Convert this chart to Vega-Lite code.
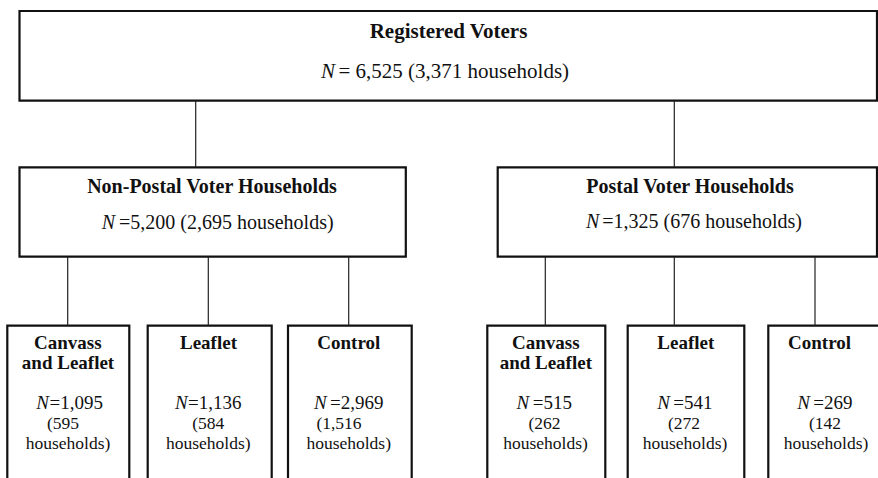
{
  "$schema": "https://vega.github.io/schema/vega-lite/v6.json",
  "width": 878,
  "height": 478,
  "padding": 0,
  "autosize": {"type": "fit", "contains": "padding"},
  "background": "white",
  "config": {"view": {"stroke": null}},
  "datasets": {
    "boxes": [
      {"id": "all", "tier": "top", "x": 19.5, "x2": 877, "y": 11, "y2": 100.7},
      {"id": "nonpostal", "tier": "mid", "x": 19.5, "x2": 405.8, "y": 167.3, "y2": 256.7},
      {"id": "postal", "tier": "mid", "x": 497.7, "x2": 877, "y": 167.3, "y2": 256.7},
      {"id": "np_canvass", "tier": "bottom", "x": 7.3, "x2": 129.3, "y": 325.7, "y2": 495},
      {"id": "np_leaflet", "tier": "bottom", "x": 147.7, "x2": 271.7, "y": 325.7, "y2": 495},
      {"id": "np_control", "tier": "bottom", "x": 288, "x2": 411.7, "y": 325.7, "y2": 495},
      {"id": "p_canvass", "tier": "bottom", "x": 487.3, "x2": 605.3, "y": 325.7, "y2": 495},
      {"id": "p_leaflet", "tier": "bottom", "x": 627.7, "x2": 744.3, "y": 325.7, "y2": 495},
      {"id": "p_control", "tier": "bottom", "x": 768.3, "x2": 890, "y": 325.7, "y2": 495}
    ],
    "links": [
      {"x": 195.7, "y": 100.7, "y2": 167.3},
      {"x": 674.3, "y": 100.7, "y2": 167.3},
      {"x": 67.7, "y": 256.7, "y2": 325.7},
      {"x": 208.3, "y": 256.7, "y2": 325.7},
      {"x": 348.7, "y": 256.7, "y2": 325.7},
      {"x": 545.3, "y": 256.7, "y2": 325.7},
      {"x": 674.3, "y": 256.7, "y2": 325.7},
      {"x": 815, "y": 256.7, "y2": 325.7}
    ],
    "headers": [
      {"tier": "top", "label": "Registered Voters", "x": 448.5, "y": 31.7},
      {"tier": "mid", "label": "Non-Postal Voter Households", "x": 212, "y": 186.7},
      {"tier": "mid", "label": "Postal Voter Households", "x": 690, "y": 186.7},
      {"tier": "bottom", "label": "Canvass", "x": 67.8, "y": 343},
      {"tier": "bottom", "label": "and Leaflet", "x": 68, "y": 362.5},
      {"tier": "bottom", "label": "Leaflet", "x": 208.5, "y": 343},
      {"tier": "bottom", "label": "Control", "x": 348.8, "y": 343},
      {"tier": "bottom", "label": "Canvass", "x": 545.8, "y": 343},
      {"tier": "bottom", "label": "and Leaflet", "x": 545.8, "y": 362.5},
      {"tier": "bottom", "label": "Leaflet", "x": 685.8, "y": 343},
      {"tier": "bottom", "label": "Control", "x": 819.5, "y": 343}
    ],
    "counts": [
      {"tier": "top", "xn": 335, "xr": 338.5, "y": 71.7, "rest": "= 6,525 (3,371 households)"},
      {"tier": "mid", "xn": 115, "xr": 119, "y": 222.5, "rest": "=5,200 (2,695 households)"},
      {"tier": "mid", "xn": 599.3, "xr": 602.3, "y": 222, "rest": "=1,325 (676 households)"},
      {"tier": "bottom", "xn": 49, "xr": 49.5, "y": 403, "rest": "=1,095"},
      {"tier": "bottom", "xn": 187.7, "xr": 188, "y": 403, "rest": "=1,136"},
      {"tier": "bottom", "xn": 326.7, "xr": 330, "y": 403, "rest": "=2,969"},
      {"tier": "bottom", "xn": 529.3, "xr": 532.7, "y": 403, "rest": "=515"},
      {"tier": "bottom", "xn": 670, "xr": 673.3, "y": 403, "rest": "=541"},
      {"tier": "bottom", "xn": 810, "xr": 813.3, "y": 403, "rest": "=269"}
    ],
    "lines": [
      {"label": "(595", "x": 63, "y": 423.5},
      {"label": "households)", "x": 68, "y": 444},
      {"label": "(584", "x": 208.3, "y": 423.5},
      {"label": "households)", "x": 208.3, "y": 444},
      {"label": "(1,516", "x": 339, "y": 423.5},
      {"label": "households)", "x": 348.7, "y": 444},
      {"label": "(262", "x": 544.5, "y": 423.5},
      {"label": "households)", "x": 545.5, "y": 444},
      {"label": "(272", "x": 684, "y": 423.5},
      {"label": "households)", "x": 685, "y": 444},
      {"label": "(142", "x": 825, "y": 423.5},
      {"label": "households)", "x": 826, "y": 444}
    ]
  },
  "layer": [
    {
      "data": {"name": "boxes"},
      "mark": {"type": "rect", "fill": "white", "stroke": "#111", "clip": true},
      "encoding": {
        "x": {"field": "x", "type": "quantitative", "scale": {"domain": [0, 878], "nice": false, "zero": false}, "axis": null},
        "x2": {"field": "x2"},
        "y": {"field": "y", "type": "quantitative", "scale": {"domain": [0, 478], "nice": false, "zero": false, "reverse": true}, "axis": null},
        "y2": {"field": "y2"},
        "strokeWidth": {"field": "tier", "type": "ordinal", "scale": {"domain": ["top", "mid", "bottom"], "range": [2.2, 2.2, 1.2]}, "legend": null}
      }
    },
    {
      "data": {"name": "links"},
      "mark": {"type": "rule", "stroke": "#222", "strokeWidth": 1.2},
      "encoding": {
        "x": {"field": "x", "type": "quantitative"},
        "y": {"field": "y", "type": "quantitative"},
        "y2": {"field": "y2"}
      }
    },
    {
      "data": {"name": "headers"},
      "mark": {"type": "text", "font": "Liberation Serif", "color": "#111", "fontWeight": "bold", "align": "center", "baseline": "middle"},
      "encoding": {
        "x": {"field": "x", "type": "quantitative"},
        "y": {"field": "y", "type": "quantitative"},
        "text": {"field": "label"},
        "size": {"field": "tier", "type": "ordinal", "scale": {"domain": ["top", "mid", "bottom"], "range": [21, 19, 17.5]}, "legend": null}
      }
    },
    {
      "data": {"name": "counts"},
      "mark": {"type": "text", "font": "Liberation Serif", "color": "#111", "fontStyle": "italic", "align": "right", "baseline": "middle", "text": "N"},
      "encoding": {
        "x": {"field": "xn", "type": "quantitative"},
        "y": {"field": "y", "type": "quantitative"},
        "size": {"field": "tier", "type": "ordinal", "scale": {"domain": ["top", "mid", "bottom"], "range": [21, 19, 17.5]}, "legend": null}
      }
    },
    {
      "data": {"name": "counts"},
      "mark": {"type": "text", "font": "Liberation Serif", "color": "#111", "align": "left", "baseline": "middle"},
      "encoding": {
        "x": {"field": "xr", "type": "quantitative"},
        "y": {"field": "y", "type": "quantitative"},
        "text": {"field": "rest"},
        "size": {"field": "tier", "type": "ordinal", "scale": {"domain": ["top", "mid", "bottom"], "range": [21, 19, 17.5]}, "legend": null}
      }
    },
    {
      "data": {"name": "lines"},
      "mark": {"type": "text", "font": "Liberation Serif", "color": "#111", "align": "center", "baseline": "middle", "fontSize": 17.5},
      "encoding": {
        "x": {"field": "x", "type": "quantitative"},
        "y": {"field": "y", "type": "quantitative"},
        "text": {"field": "label"}
      }
    }
  ]
}
